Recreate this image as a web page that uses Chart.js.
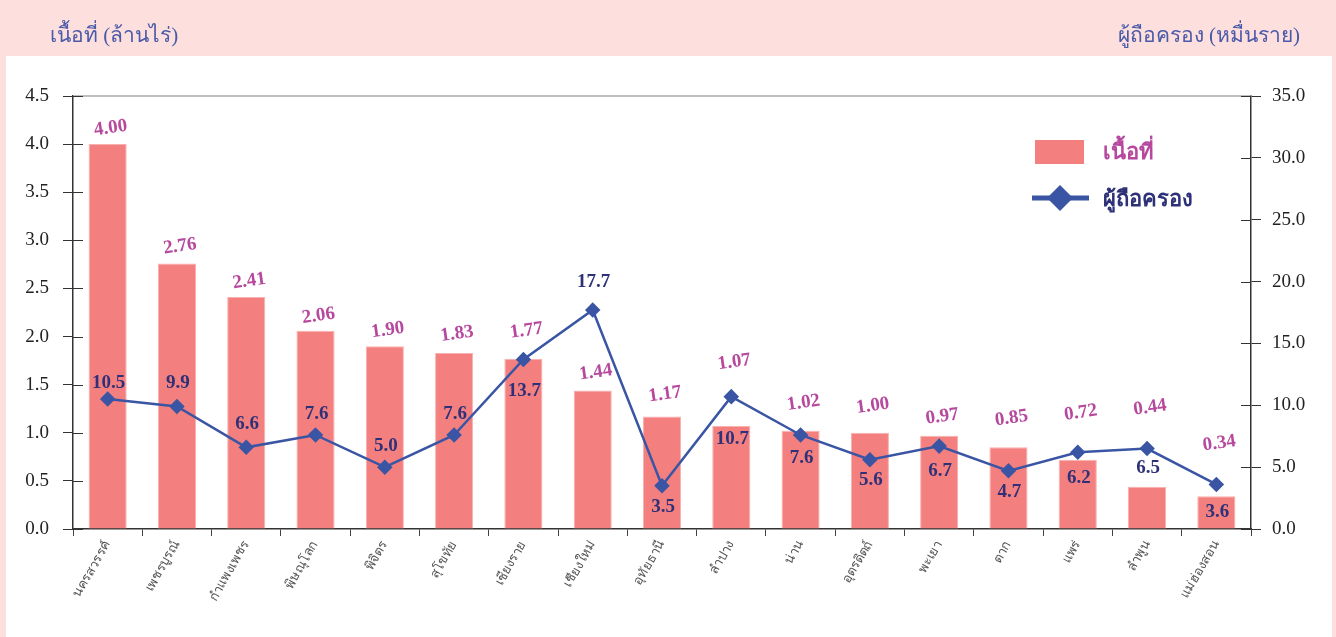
<!DOCTYPE html>
<html>
<head>
<meta charset="utf-8">
<script src="https://cdn.jsdelivr.net/npm/chart.js@4.4.1/dist/chart.umd.min.js"></script>
<style>
  html, body { margin: 0; padding: 0; background: #fde0de; }
  #wrap { position: relative; width: 1336px; height: 637px; overflow: hidden; }
  #panel { position: absolute; left: 6px; top: 56px; width: 1326px; height: 600px; background: #fff; }
  canvas { position: absolute; left: 0; top: 0; }
</style>
</head>
<body>
<div id="wrap">
  <div id="panel"></div>
  <canvas id="chart" width="1336" height="637"></canvas>
</div>
<script>
// provinces (x categories)
const provinces = ['นครสวรรค์', 'เพชรบูรณ์', 'กำแพงเพชร', 'พิษณุโลก', 'พิจิตร', 'สุโขทัย', 'เชียงราย', 'เชียงใหม่', 'อุทัยธานี', 'ลำปาง', 'น่าน', 'อุตรดิตถ์', 'พะเยา', 'ตาก', 'แพร่', 'ลำพูน', 'แม่ฮ่องสอน'];
// area (million rai) - bars, left axis
const area = [4.00, 2.76, 2.41, 2.06, 1.90, 1.83, 1.77, 1.44, 1.17, 1.07, 1.02, 1.00, 0.97, 0.85, 0.72, 0.44, 0.34];
// holders (ten thousand) - line, right axis
const holders = [10.5, 9.9, 6.6, 7.6, 5.0, 7.6, 13.7, 17.7, 3.5, 10.7, 7.6, 5.6, 6.7, 4.7, 6.2, 6.5, 3.6];

const areaTicks = [0, 0.5, 1, 1.5, 2, 2.5, 3, 3.5, 4, 4.5];
const holderTicks = [0, 5, 10, 15, 20, 25, 30, 35];

// label placement (px from the mark) so labels don't collide
const areaLabelLift = [16, 17, 16, 15, 16, 19, 28, 18, 22, 64, 28, 27, 19, 29, 47, 79, 53];
const holderLabelShift = [-16, -23, -23, -21, -21, -21, 32, -28, 21, 42, 23, 20, 25, 21, 26, 20, 28];

const SERIF = '"Liberation Serif", "DejaVu Serif", serif';
const BAR_COLOR = '#f47f7f';
const LINE_COLOR = '#3a55a4';
const AREA_TEXT = '#b6489e';
const HOLDER_TEXT = '#2e3178';
const TITLE_COLOR = '#4a5aa8';

const extras = {
  id: 'extras',
  beforeDatasetsDraw(chart) {
    const ctx = chart.ctx;
    const a = chart.chartArea;
    const y = chart.scales.y, y1 = chart.scales.y1;
    ctx.save();
    // top grid line
    ctx.strokeStyle = '#aaa';
    ctx.lineWidth = 1.5;
    ctx.beginPath();
    ctx.moveTo(a.left, a.top);
    ctx.lineTo(a.right, a.top);
    ctx.stroke();
    // inner halves of the axis ticks
    ctx.strokeStyle = '#333';
    ctx.lineWidth = 1;
    areaTicks.forEach(t => {
      const py = Math.round(y.getPixelForValue(t)) + 0.5;
      ctx.beginPath(); ctx.moveTo(a.left, py); ctx.lineTo(a.left + 10, py); ctx.stroke();
    });
    holderTicks.forEach(t => {
      const py = Math.round(y1.getPixelForValue(t)) + 0.5;
      ctx.beginPath(); ctx.moveTo(a.right - 10, py); ctx.lineTo(a.right, py); ctx.stroke();
    });
    ctx.restore();
  },
  afterDatasetsDraw(chart) {
    const ctx = chart.ctx;
    ctx.save();
    ctx.textAlign = 'center';
    ctx.textBaseline = 'middle';
    // bar value labels
    chart.getDatasetMeta(0).data.forEach((bar, i) => {
      ctx.save();
      ctx.translate(bar.x + 3, bar.y - areaLabelLift[i]);
      ctx.rotate(-8 * Math.PI / 180);
      ctx.font = 'bold 19px ' + SERIF;
      ctx.fillStyle = AREA_TEXT;
      ctx.fillText(area[i].toFixed(2), 0, 0);
      ctx.restore();
    });
    // line value labels
    ctx.font = 'bold 19px ' + SERIF;
    ctx.fillStyle = HOLDER_TEXT;
    chart.getDatasetMeta(1).data.forEach((pt, i) => {
      ctx.fillText(holders[i].toFixed(1), pt.x + 1, pt.y + holderLabelShift[i]);
    });

    // axis titles
    ctx.font = '21px ' + SERIF;
    ctx.fillStyle = TITLE_COLOR;
    ctx.textBaseline = 'alphabetic';
    ctx.textAlign = 'left';
    ctx.fillText('เนื้อที่ (ล้านไร่)', 50, 42);
    ctx.textAlign = 'right';
    ctx.fillText('ผู้ถือครอง (หมื่นราย)', 1300, 42);

    // legend
    ctx.fillStyle = BAR_COLOR;
    ctx.fillRect(1035, 140, 49, 24);
    ctx.strokeStyle = LINE_COLOR;
    ctx.lineWidth = 5;
    ctx.beginPath(); ctx.moveTo(1032, 198); ctx.lineTo(1089, 198); ctx.stroke();
    ctx.fillStyle = LINE_COLOR;
    ctx.beginPath();
    ctx.moveTo(1060, 185); ctx.lineTo(1073, 198); ctx.lineTo(1060, 211); ctx.lineTo(1047, 198);
    ctx.closePath(); ctx.fill();
    ctx.textAlign = 'left';
    ctx.textBaseline = 'middle';
    ctx.font = 'bold 22px ' + SERIF;
    ctx.fillStyle = AREA_TEXT;
    ctx.fillText('เนื้อที่', 1103, 153);
    ctx.fillStyle = HOLDER_TEXT;
    ctx.fillText('ผู้ถือครอง', 1103, 200);
    ctx.restore();
  }
};

new Chart(document.getElementById('chart'), {
  data: {
    labels: provinces,
    datasets: [
      {
        type: 'bar',
        label: 'เนื้อที่',
        data: area,
        yAxisID: 'y',
        backgroundColor: BAR_COLOR,
        borderColor: '#f9b0ae',
        borderWidth: 1,
        barPercentage: 0.55,
        categoryPercentage: 1,
        order: 2
      },
      {
        type: 'line',
        label: 'ผู้ถือครอง',
        data: holders,
        yAxisID: 'y1',
        borderColor: LINE_COLOR,
        backgroundColor: LINE_COLOR,
        borderWidth: 2.5,
        pointStyle: 'rectRot',
        pointRadius: 6,
        pointHoverRadius: 6,
        tension: 0,
        order: 1
      }
    ]
  },
  options: {
    responsive: false,
    animation: false,
    layout: { padding: { top: 96, left: 0, right: 0, bottom: 0 } },
    plugins: { legend: { display: false }, tooltip: { enabled: false } },
    scales: {
      x: {
        offset: true,
        grid: { offset: true, drawOnChartArea: false, tickLength: 7, color: '#444' },
        border: { color: '#333', width: 1.5 },
        ticks: { minRotation: 60, maxRotation: 60, color: '#555', padding: 2, font: { family: SERIF, size: 13 } },
        afterFit: s => { s.height = 108; }
      },
      y: {
        position: 'left',
        min: 0,
        max: 4.5,
        afterBuildTicks: s => { s.ticks = areaTicks.map(v => ({ value: v })); },
        ticks: { callback: v => v.toFixed(1), color: '#222', padding: 14, font: { family: SERIF, size: 19 } },
        grid: { drawOnChartArea: false, tickLength: 10, color: '#333' },
        border: { color: '#333', width: 1.5 },
        afterFit: s => { s.width = 73; }
      },
      y1: {
        position: 'right',
        min: 0,
        max: 35,
        afterBuildTicks: s => { s.ticks = holderTicks.map(v => ({ value: v })); },
        ticks: { callback: v => v.toFixed(1), color: '#222', padding: 11, font: { family: SERIF, size: 19 } },
        grid: { drawOnChartArea: false, tickLength: 10, color: '#333' },
        border: { color: '#333', width: 1.5 },
        afterFit: s => { s.width = 85; }
      }
    }
  },
  plugins: [extras]
});
</script>
</body>
</html>
